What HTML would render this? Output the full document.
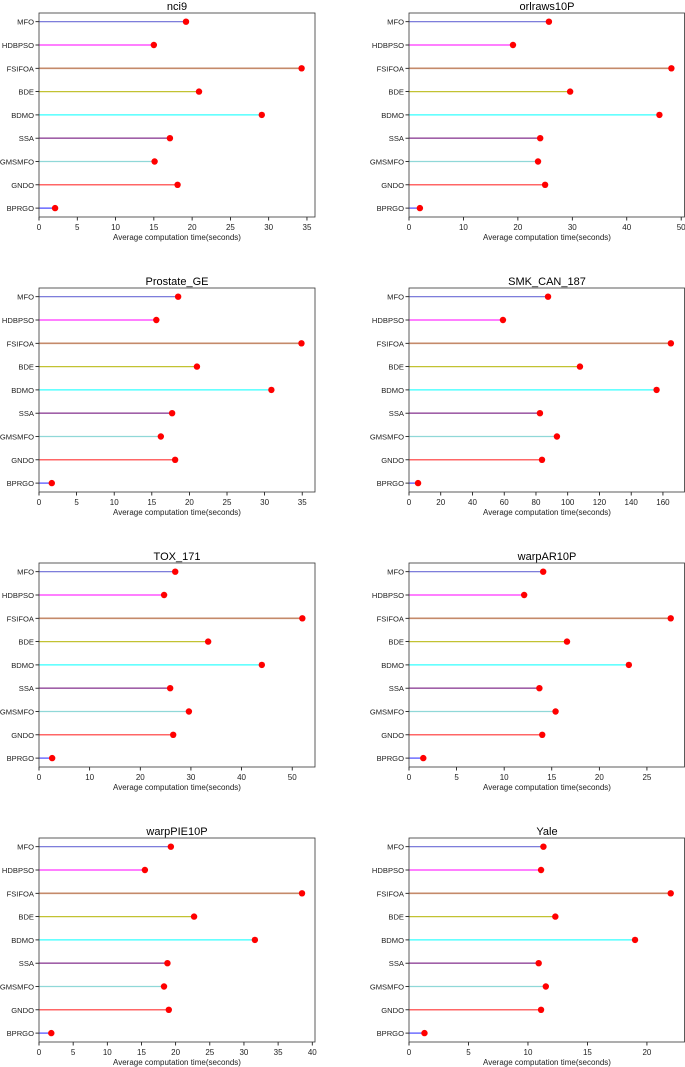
<!DOCTYPE html>
<html><head><meta charset="utf-8"><style>
body{margin:0;background:#fff;}
svg{display:block;font-family:"Liberation Sans","DejaVu Sans",sans-serif;}
</style></head><body>
<svg id="c" width="685" height="1067"></svg>
<script>
const algorithms = ["MFO","HDBPSO","FSIFOA","BDE","BDMO","SSA","GMSMFO","GNDO","BPRGO"];
const lineColors = ["#6b6bd6","#ff33ff","#c48a6a","#c2c232","#33ffff","#a060a8","#90d8d8","#ff3333","#4a4aff"];
const titles = ["nci9","orlraws10P","Prostate_GE","SMK_CAN_187","TOX_171","warpAR10P","warpPIE10P","Yale"];
const valsNci9 = [19.2,15,34.3,20.9,29.1,17.1,15.1,18.1,2.1];
const valsOrl = [25.7,19.1,48.2,29.6,46,24.1,23.7,25,2.0];
const valsProstate = [18.5,15.6,34.9,21,30.9,17.7,16.2,18.1,1.7];
const valsSmk = [87.6,59.2,165,107.7,156,82.5,93.2,83.8,5.7];
const valsTox = [26.9,24.7,52,33.4,44,25.9,29.6,26.5,2.6];
const valsWarpAR = [14.1,12.1,27.5,16.6,23.1,13.7,15.4,14,1.5];
const valsWarpPIE = [19.3,15.5,38.5,22.7,31.6,18.8,18.3,19,1.8];
const valsYale = [11.3,11.1,22,12.3,19,10.9,11.5,11.1,1.3];
const allVals = [valsNci9,valsOrl,valsProstate,valsSmk,valsTox,valsWarpAR,valsWarpPIE,valsYale];
const xMaxes = [36.05,50.7,36.7,173.9,54.5,29,40.4,23.2];
const tickSteps = [5,10,5,20,10,5,5,5];

const NS="http://www.w3.org/2000/svg";
const svg=document.getElementById('c');
function mk(tag,attrs,parent){const e=document.createElementNS(NS,tag);for(const k in attrs)e.setAttribute(k,attrs[k]);(parent||svg).appendChild(e);return e;}

titles.forEach((t,p)=>{
  const col=p%2,row=Math.floor(p/2);
  const L=col?409:39, W=276, T=13+row*275, H=204;
  const g=mk('g',{});
  
  
  const xs=v=>L+v/xMaxes[p]*W;
  const ys=i=>T+8.7+i*23.3;
  const tt=mk('text',{x:L+W/2,y:T-3,'text-anchor':'middle','font-size':11},g);tt.textContent=t;
  
  for(let v=0;v<=xMaxes[p]+1e-9;v+=tickSteps[p]){
    mk('line',{x1:xs(v),x2:xs(v),y1:T+H,y2:T+H+3.5,stroke:'#000','stroke-width':0.8},g);
    const tl=mk('text',{x:xs(v),y:T+H+13,'text-anchor':'middle','font-size':8,fill:'#222'},g);tl.textContent=v;
    
  }
  const xl=mk('text',{x:L+W/2,y:T+H+23,'text-anchor':'middle','font-size':8,fill:'#222'},g);
  xl.textContent='Average computation time(seconds)';
  
  algorithms.forEach((a,i)=>{
    const y=ys(i);
    mk('line',{x1:L-3.5,x2:L,y1:y,y2:y,stroke:'#000','stroke-width':0.8},g);
    const yl=mk('text',{x:L-5,y:y+3,'text-anchor':'end','font-size':7.6,fill:'#222'},g);yl.textContent=a;
    
    const ln=mk('line',{x1:xs(0),x2:xs(allVals[p][i]),y1:y,y2:y,stroke:lineColors[i],'stroke-width':(i==5||i==2)?1.6:1.2},g);
    
    const d=mk('circle',{cx:xs(allVals[p][i]),cy:y,r:3.2,fill:'#ff0000'},g);
    
  });
  const fr=mk('rect',{x:L,y:T,width:W-(col?0.5:0),height:H,fill:'none',stroke:'#333','stroke-width':0.8},g);
  
});
</script>
</body></html>
